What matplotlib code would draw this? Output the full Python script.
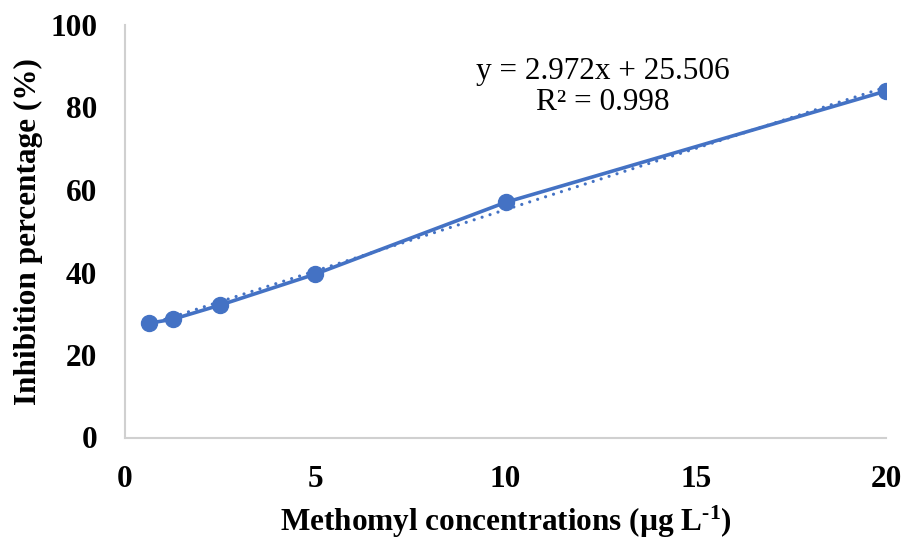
import numpy as np
import matplotlib
matplotlib.use("Agg")
import matplotlib.pyplot as plt

plt.rcParams["font.family"] = ["Liberation Serif", "DejaVu Serif"]
plt.rcParams["mathtext.fontset"] = "custom"
plt.rcParams["mathtext.rm"] = "Liberation Serif:bold"
plt.rcParams["mathtext.bf"] = "Liberation Serif:bold"
plt.rcParams["mathtext.it"] = "Liberation Serif:bold"

# Methomyl concentration (µg/L) vs. inhibition (%)
concentration = [0.625, 1.25, 2.5, 5, 10, 20]
inhibition = [27.7, 28.65, 32.1, 39.6, 57.0, 84.0]

# Linear fit reported on the chart
slope = 2.972
intercept = 25.506
r_squared = 0.998

x_ticks = [0, 5, 10, 15, 20]
y_ticks = [0, 20, 40, 60, 80, 100]

blue = "#4472C4"
fs = 22.5

fig = plt.figure(figsize=(9.08, 5.39), dpi=100)
ax = fig.add_axes([125 / 908, 1 - 437.5 / 539, 761 / 908, 412.5 / 539])

# Trendline across the measured range
fit_x = np.array([concentration[0], concentration[-1]])
fit_y = slope * fit_x + intercept
ax.plot(fit_x, fit_y, color=blue, lw=2.3, linestyle=(0, (0.01, 2.6)),
        dash_capstyle="round", zorder=2)

ax.plot(concentration, inhibition, color=blue, lw=2.6, marker="o",
        markersize=11.5, zorder=3)

ax.set_xlim(0, 20)
ax.set_ylim(0, 100)
ax.set_xticks(x_ticks)
ax.set_yticks(y_ticks)
ax.tick_params(axis="both", length=0, labelsize=fs)
ax.tick_params(axis="x", pad=20)
ax.tick_params(axis="y", pad=20)
for lbl in ax.get_xticklabels() + ax.get_yticklabels():
    lbl.set_fontweight("bold")

for side in ("top", "right"):
    ax.spines[side].set_visible(False)
for side in ("left", "bottom"):
    ax.spines[side].set_color("#d0d0d0")
    ax.spines[side].set_linewidth(1.5)

ax.set_xlabel(r"Methomyl concentrations (µg L$^{\text{-1}}$)", fontsize=fs,
              fontweight="bold")
ax.set_ylabel("Inhibition percentage (%)", fontsize=fs, fontweight="bold")
ax.xaxis.set_label_coords(0.5, -0.16)
ax.yaxis.set_label_coords(-0.108, 0.5)

ax.text((603 - 125) / 761, (437.5 - 87) / 412.5,
        f"y = {slope:.3f}x + {intercept:.3f}\nR² = {r_squared:.3f}",
        transform=ax.transAxes, ha="center", va="center", fontsize=fs,
        linespacing=1.05)

fig.savefig("out.png", dpi=100)
